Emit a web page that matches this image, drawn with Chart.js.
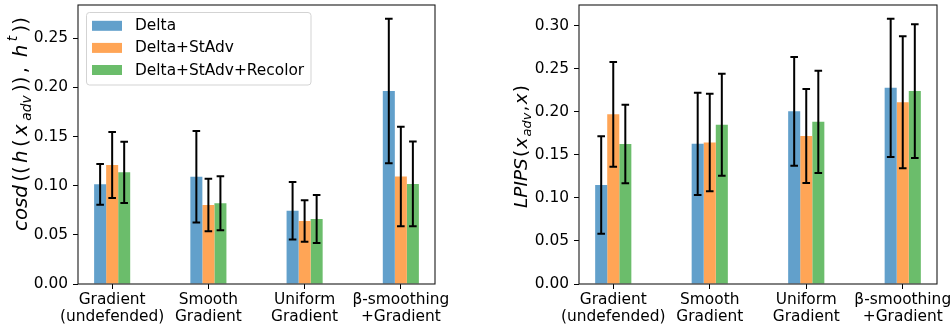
<!DOCTYPE html>
<html><head><meta charset="utf-8">
<script src="https://cdn.jsdelivr.net/npm/chart.js@4/dist/chart.umd.min.js"></script>
<style>
html,body{margin:0;padding:0;background:#fff;}
#wrap{position:relative;width:951px;height:326px;overflow:hidden;background:#fff;}
#c1{position:absolute;left:0;top:0;}
#c2{position:absolute;left:480px;top:0;}
</style></head><body>
<div id="wrap">
<canvas id="c1" width="480" height="326"></canvas>
<canvas id="c2" width="471" height="326"></canvas>
</div>
<script>
// ---------- data ----------
const categories = [['Gradient','(undefended)'], ['Smooth','Gradient'], ['Uniform','Gradient'], ['β-smoothing','+Gradient']];
const seriesNames = ['Delta', 'Delta+StAdv', 'Delta+StAdv+Recolor'];
const seriesColors = ['rgb(98,160,203)', 'rgb(255,165,86)', 'rgb(107,189,107)'];

// left panel: cosd((h(x_adv), h^t))
const cosdDelta          = [0.1014, 0.1092, 0.0746, 0.1964];
const cosdDeltaErr       = [0.0207, 0.0465, 0.0292, 0.0735];
const cosdStAdv          = [0.1211, 0.0804, 0.0641, 0.1094];
const cosdStAdvErr       = [0.0336, 0.0267, 0.0212, 0.0507];
const cosdRecolor        = [0.1136, 0.0821, 0.0661, 0.1018];
const cosdRecolorErr     = [0.0312, 0.0275, 0.0245, 0.0431];
const cosdTicks          = [0, 0.05, 0.10, 0.15, 0.20, 0.25];
const cosdMax            = 0.2839;

// right panel: LPIPS(x_adv, x)
const lpipsDelta         = [0.1150, 0.1628, 0.2005, 0.2278];
const lpipsDeltaErr      = [0.0565, 0.0594, 0.0631, 0.0803];
const lpipsStAdv         = [0.1970, 0.1642, 0.1719, 0.2110];
const lpipsStAdvErr      = [0.0608, 0.0566, 0.0546, 0.0767];
const lpipsRecolor       = [0.1626, 0.1850, 0.1883, 0.2240];
const lpipsRecolorErr    = [0.0457, 0.0593, 0.0594, 0.0777];
const lpipsTicks         = [0, 0.05, 0.10, 0.15, 0.20, 0.25, 0.30];
const lpipsMax           = 0.324;

const FONT = "'DejaVu Sans', 'Liberation Sans', sans-serif";
const TICK_SIZE = 15.4;

// ---------- plugins ----------
const errorBarPlugin = {
  id: 'errorBars',
  afterDatasetsDraw(chart) {
    const ctx = chart.ctx;
    const ys = chart.scales.y;
    ctx.save();
    ctx.strokeStyle = '#000';
    ctx.lineWidth = 2;
    chart.data.datasets.forEach((ds, di) => {
      const meta = chart.getDatasetMeta(di);
      meta.data.forEach((bar, i) => {
        const v = ds.data[i].y, e = ds.errors[i];
        const x = bar.x;
        const yt = ys.getPixelForValue(v + e);
        const yb = ys.getPixelForValue(v - e);
        const cap = 3.8;
        ctx.beginPath();
        ctx.moveTo(x, yt); ctx.lineTo(x, yb);
        ctx.moveTo(x - cap, yt); ctx.lineTo(x + cap, yt);
        ctx.moveTo(x - cap, yb); ctx.lineTo(x + cap, yb);
        ctx.stroke();
      });
    });
    ctx.restore();
  }
};

const framePlugin = {
  id: 'frame',
  afterDraw(chart) {
    const a = chart.chartArea, ctx = chart.ctx;
    ctx.save();
    ctx.strokeStyle = '#1a1a1a';
    ctx.lineWidth = 1.1;
    ctx.strokeRect(a.left, a.top, a.right - a.left, a.bottom - a.top);
    ctx.restore();
  }
};

const yTitlePlugin = {
  id: 'yTitle',
  afterDraw(chart, args, opts) {
    if (!opts || !opts.segments) return;
    const ctx = chart.ctx;
    const size = opts.size;
    const fontFor = (seg) => {
      const s = size * (seg.scale || 1);
      return (seg.italic ? 'italic ' : '') + s + 'px ' + FONT;
    };
    let total = 0;
    opts.segments.forEach(seg => { ctx.font = fontFor(seg); total += ctx.measureText(seg.t).width; });
    const n = opts.segments.length;
    const gap = opts.length && n > 1 ? Math.max(0, (opts.length - total) / (n - 1)) : 0;
    const full = total + gap * (n - 1);
    ctx.save();
    ctx.translate(opts.x, opts.y);
    ctx.rotate(-Math.PI / 2);
    ctx.fillStyle = '#000';
    ctx.textBaseline = 'middle';
    ctx.textAlign = 'left';
    let x = -full / 2;
    opts.segments.forEach(seg => {
      ctx.font = fontFor(seg);
      ctx.fillText(seg.t, x, (seg.dy || 0) * size);
      x += ctx.measureText(seg.t).width + gap;
    });
    ctx.restore();
  }
};

const legendPlugin = {
  id: 'boxLegend',
  afterDatasetsDraw(chart, args, opts) {
    if (!opts || !opts.show) return;
    const ctx = chart.ctx;
    ctx.save();
    ctx.beginPath();
    ctx.roundRect(86.5, 12.5, 224.5, 72.5, 3);
    ctx.fillStyle = 'rgba(255,255,255,0.85)';
    ctx.fill();
    ctx.strokeStyle = '#d3d3d3';
    ctx.lineWidth = 1;
    ctx.stroke();
    ctx.font = TICK_SIZE + 'px ' + FONT;
    ctx.textBaseline = 'middle';
    chart.data.datasets.forEach((ds, i) => {
      const cy = 25.8 + 22.1 * i;
      ctx.fillStyle = ds.backgroundColor;
      ctx.fillRect(92, cy - 5, 30, 10);
      ctx.fillStyle = '#000';
      ctx.fillText(ds.label, 135, cy + 0.5);
    });
    ctx.restore();
  }
};

function makeChart(canvasId, series, errs, yTicks, yMax, yAxisWidth, rightPad, titleOpts, showLegend) {
  const datasets = series.map((vals, si) => ({
    label: seriesNames[si],
    data: vals.map((v, i) => ({ x: i, y: v })),
    errors: errs[si],
    backgroundColor: seriesColors[si],
    borderWidth: 0,
    categoryPercentage: 0.375,
    barPercentage: 1.0
  }));
  return new Chart(document.getElementById(canvasId), {
    type: 'bar',
    data: { datasets },
    plugins: [errorBarPlugin, framePlugin, yTitlePlugin, legendPlugin],
    options: {
      responsive: false,
      animation: false,
      devicePixelRatio: 1,
      layout: { padding: { top: 5, right: rightPad, left: 0, bottom: 0 } },
      plugins: {
        legend: { display: false },
        tooltip: { enabled: false },
        yTitle: titleOpts,
        boxLegend: { show: showLegend }
      },
      scales: {
        x: {
          type: 'linear',
          min: -0.355, max: 3.355,
          offset: false,
          grid: { display: true, drawOnChartArea: false, drawTicks: true, tickLength: 5, color: '#000', offset: false },
          border: { display: false },
          afterBuildTicks: (s) => { s.ticks = categories.map((c, i) => ({ value: i })); },
          afterFit: (s) => { s.height = 42; s.paddingLeft = 0; s.paddingRight = 0; },
          ticks: {
            autoSkip: false, maxRotation: 0, minRotation: 0,
            padding: 3,
            color: '#000',
            font: { family: FONT, size: TICK_SIZE, lineHeight: 1.08 },
            callback: (v) => categories[v]
          }
        },
        y: {
          type: 'linear',
          min: 0, max: yMax,
          grid: { display: true, drawOnChartArea: false, drawTicks: true, tickLength: 5, color: '#000' },
          border: { display: false },
          afterBuildTicks: (s) => { s.ticks = yTicks.map(v => ({ value: v })); },
          afterFit: (s) => { s.width = yAxisWidth; s.paddingTop = 0; s.paddingBottom = 0; },
          ticks: {
            padding: 5,
            color: '#000',
            font: { family: FONT, size: TICK_SIZE },
            callback: (v) => Number(v).toFixed(2)
          }
        }
      }
    }
  });
}

makeChart('c1',
  [cosdDelta, cosdStAdv, cosdRecolor],
  [cosdDeltaErr, cosdStAdvErr, cosdRecolorErr],
  cosdTicks, cosdMax, 78, 45,
  { x: 21.5, y: 124, size: 19.8, length: 214, segments: [
    { t: 'cosd', italic: true },
    { t: '((' },
    { t: 'h', italic: true },
    { t: '(' },
    { t: 'x', italic: true },
    { t: 'adv', italic: true, scale: 0.7, dy: 0.28 },
    { t: '))' },
    { t: ', ' },
    { t: 'h', italic: true },
    { t: 't', italic: true, scale: 0.7, dy: -0.42 },
    { t: '))' }
  ]},
  true);

makeChart('c2',
  [lpipsDelta, lpipsStAdv, lpipsRecolor],
  [lpipsDeltaErr, lpipsStAdvErr, lpipsRecolorErr],
  lpipsTicks, lpipsMax, 99, 14,
  { x: 42.5, y: 146.5, size: 18.5, length: 123, segments: [
    { t: 'LPIPS', italic: true },
    { t: '(' },
    { t: 'x', italic: true },
    { t: 'adv', italic: true, scale: 0.7, dy: 0.28 },
    { t: ',' },
    { t: 'x', italic: true },
    { t: ')' }
  ]},
  false);
</script>
</body></html>
